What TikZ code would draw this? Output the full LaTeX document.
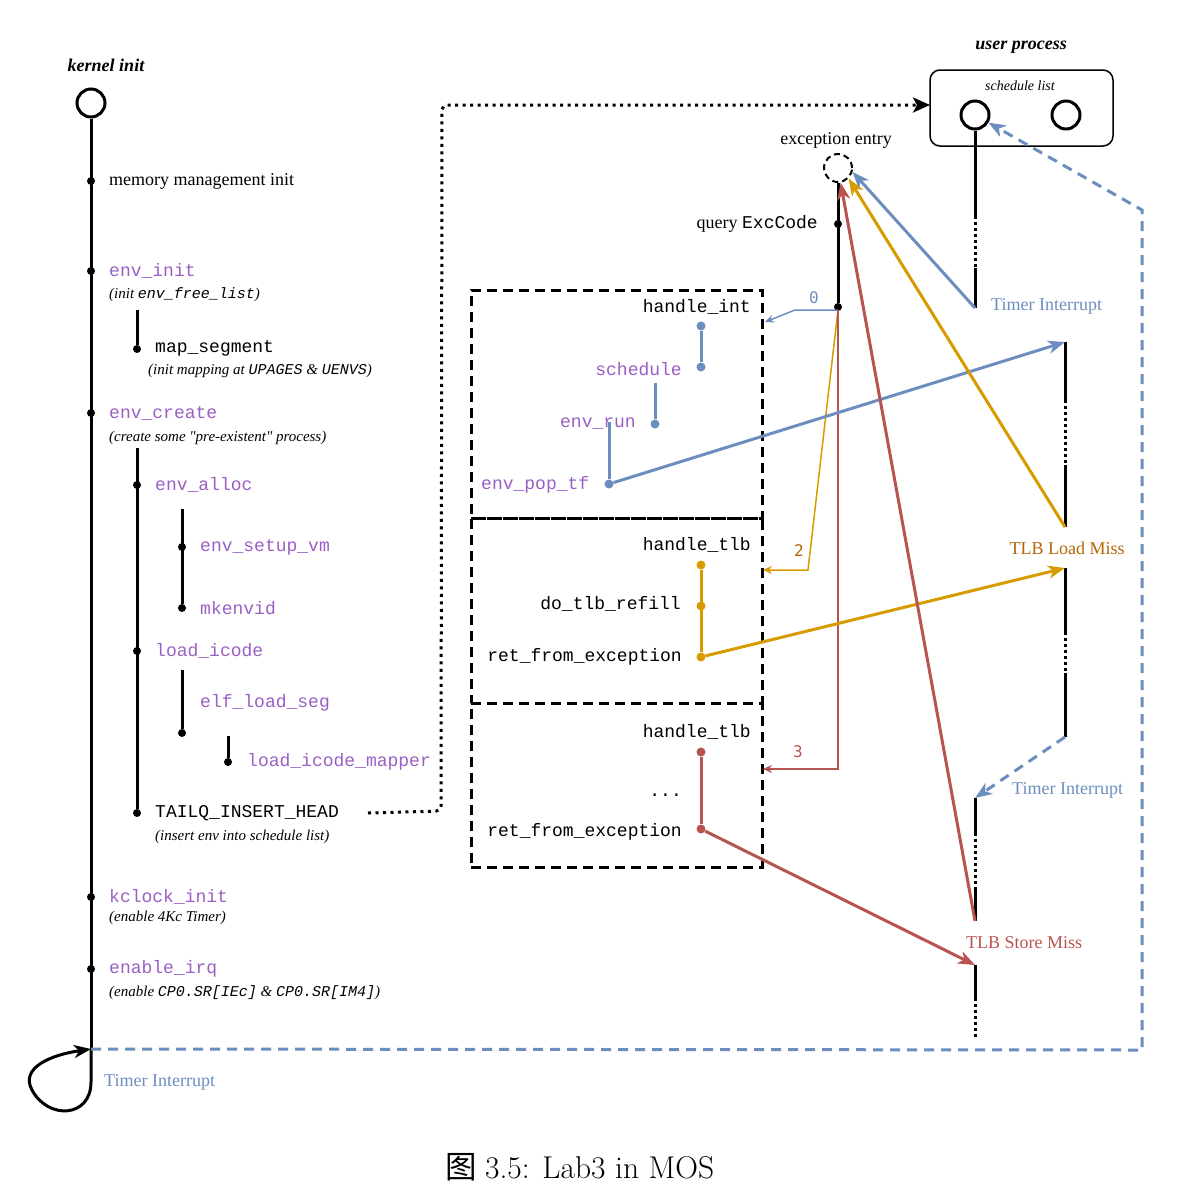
\documentclass[tikz,border=0pt]{standalone}
\usepackage{fontspec}
\setmainfont{Liberation Serif}
\setmonofont{Liberation Mono}
\newfontfamily\cjk{Noto Sans CJK SC}
\newfontfamily\dvsm{DejaVu Sans Mono}
\usetikzlibrary{arrows.meta,calc}
\definecolor{fnpurple}{HTML}{9A5FC5}
\definecolor{dblue}{HTML}{6C8EBF}
\definecolor{dorange}{HTML}{D79B00}
\definecolor{dred}{HTML}{B85450}
\definecolor{tlbbrown}{HTML}{B46504}
\tikzset{
  tl/.style={line width=3pt, black},
  dotl/.style={line width=3pt, black, dash pattern=on 3pt off 3pt},
  dotb/.style={circle, fill=black, inner sep=0pt, minimum size=8pt},
  cdot/.style={circle, fill=#1, inner sep=0pt, minimum size=9pt},
  fn/.style={font=\ttfamily\fontsize{18}{20}\selectfont, text=fnpurple, inner sep=0pt},
  code/.style={font=\ttfamily\fontsize{18}{20}\selectfont, text=black, inner sep=0pt},
  note/.style={font=\itshape\fontsize{15}{17}\selectfont, anchor=west, inner sep=0pt},
  lbl/.style={font=\fontsize{18}{20}\selectfont, inner sep=0pt},
  bi/.style={font=\bfseries\itshape\fontsize{18}{20}\selectfont, inner sep=0pt},
  numl/.style={font=\dvsm\fontsize{16}{18}\selectfont, inner sep=0pt},
  dbox/.style={draw, line width=3pt, dash pattern=on 10pt off 6pt, inner sep=0pt},
  bigtip/.style={-{Stealth[length=17pt, width=13pt, inset=5pt]}},
  thintip/.style={-{Stealth[length=9pt, width=8pt, inset=3pt]}},
  thick3/.style={line width=3pt},
  thin/.style={line width=1.5pt},
}
\begin{document}
\begin{tikzpicture}[x=1pt,y=-1pt]
\useasboundingbox (0,0) rectangle (1182,1202);

% ---------------- left timeline ----------------
\node[bi] (klabel) at (106,65) {kernel init};
\node[draw, circle, line width=3pt, minimum size=28pt, inner sep=0pt] (kc) at (91,103) {};
\node[dotb] (mm) at (91,181) {};
\node[dotb] (ei) at (91,271) {};
\node[dotb] (ec) at (91,413) {};
\node[dotb] (kci) at (91,897) {};
\node[dotb] (eirq) at (91,969) {};
\coordinate (kbot) at (91,1049);
\coordinate (lp1) at (91,1082);
\coordinate (lp2) at (32,1090);
\draw[tl] (kc.south) -- (kbot);
\draw[tl, -{Stealth[length=17pt, width=13pt, inset=5pt]}] (kbot) -- (lp1)
  .. controls (91,1118) and (48,1120) .. (lp2)
  .. controls (20,1068) and (50,1055) .. (kbot);

\node[lbl, anchor=west] (mmt) at (109,181) {memory management init};
\node[fn, anchor=west] (eit) at (109,271) {env\_init};
\node[note] (ein) at (109,295) {(init {\ttfamily env\_free\_list})};

\coordinate (ms0) at (137,310);
\node[dotb] (ms) at (137,349) {};
\draw[tl] (ms0) -- (ms);
\node[code, anchor=west] (mst) at (155,348) {map\_segment};
\node[note] (msn) at (148,371) {(init mapping at {\ttfamily UPAGES} \& {\ttfamily UENVS})};

\node[fn, anchor=west] (ect) at (109,413) {env\_create};
\node[note] (ecn) at (109,438) {(create some \textquotedbl pre-existent\textquotedbl\ process)};

\coordinate (ec0) at (137,448);
\node[dotb] (ea) at (137,485) {};
\node[dotb] (li) at (137,651) {};
\node[dotb] (tq) at (137,813) {};
\draw[tl] (ec0) -- (tq);
\node[fn, anchor=west] (eat) at (155,485) {env\_alloc};

\coordinate (ea0) at (182,509);
\node[dotb] (esv) at (182,547) {};
\node[dotb] (mk) at (182,608) {};
\draw[tl] (ea0) -- (mk);
\node[fn, anchor=west] (esvt) at (200,547) {env\_setup\_vm};
\node[fn, anchor=west] (mkt) at (200,608) {mkenvid};

\node[fn, anchor=west] (lit) at (155,651) {load\_icode};
\coordinate (li0) at (182,670);
\node[dotb] (els) at (182,733) {};
\draw[tl] (li0) -- (els);
\node[fn, anchor=west] (elst) at (200,703) {elf\_load\_seg};

\coordinate (els0) at (228,736);
\node[dotb] (lim) at (228,762) {};
\draw[tl] (els0) -- (lim);
\node[fn, anchor=west] (limt) at (247,762) {load\_icode\_mapper};

\node[code, anchor=west] (tqt) at (155,813) {TAILQ\_INSERT\_HEAD};
\node[note] (tqn) at (155,837) {(insert env into schedule list)};

\node[fn, anchor=west] (kct) at (109,897) {kclock\_init};
\node[note] (kcn) at (109,918) {(enable 4Kc Timer)};
\node[fn, anchor=west] (eirqt) at (109,969) {enable\_irq};
\node[note] (eirqn) at (109,993) {(enable {\ttfamily CP0.SR[IEc]} \& {\ttfamily CP0.SR[IM4]})};

\node[lbl, anchor=west, text=dblue] (tik) at (104,1082) {Timer Interrupt};

% ---------------- user process ----------------
\node[bi] (uplabel) at (1021,47) {user process};
\node[draw, rounded corners=10pt, line width=1.5pt, minimum width=183pt, minimum height=76pt, inner sep=0pt] (upbox) at (1021.5,108) {};
\node[font=\itshape\fontsize{14}{16}\selectfont, inner sep=0pt] (sll) at (1020,86) {schedule list};
\node[draw, circle, line width=3pt, minimum size=28pt, inner sep=0pt] (uc1) at (975,115) {};
\node[draw, circle, line width=3pt, minimum size=28pt, inner sep=0pt] (uc2) at (1066,115) {};

% dotted connector TAILQ -> user process
\coordinate (dq0) at (368,813);
\coordinate (upin) at (930,105);
\draw[line width=3pt, dash pattern=on 3pt off 4.5pt, rounded corners=5pt,
      -{Stealth[length=17pt, width=15pt, inset=4pt]}]
  (dq0) -- (441,811) -- (442,105) -- (upin);

% big blue dashed return
\draw[dblue, line width=3pt, dash pattern=on 10pt off 7pt, bigtip]
  (kbot) -- (1142,1050) -- (1142,210) -- (uc1);

% ---------------- exception entry ----------------
\node[lbl] (eel) at (836,140) {exception entry};
\node[draw, circle, line width=2pt, dash pattern=on 6pt off 4pt, minimum size=28pt, inner sep=0pt] (ee) at (838,168) {};
\node[dotb] (qe) at (838,224) {};
\node[dotb] (qd) at (838,307) {};
\draw[tl] (ee.south) -- (qd);
\node[lbl, anchor=east] (qet) at (818,224) {query {\ttfamily ExcCode}};

% column x=975 top
\coordinate (c1a) at (975,216);
\coordinate (c1b) at (975,268);
\coordinate (ti1) at (975,308);
\draw[tl] (uc1.south) -- (c1a);
\draw[dotl] (c1a) -- (c1b);
\draw[tl] (c1b) -- (ti1);
\node[lbl, anchor=west, text=dblue] (ti1t) at (991,306) {Timer Interrupt};

% ---------------- handler boxes ----------------
\node[dbox, minimum width=291pt, minimum height=228pt] (b1) at (616.5,404) {};
\node[dbox, minimum width=291pt, minimum height=185pt] (b2) at (616.5,610.5) {};
\node[dbox, minimum width=291pt, minimum height=164pt] (b3) at (616.5,785) {};

% box 1
\node[code, anchor=east] (hi) at (751,307) {handle\_int};
\node[cdot=dblue] (s1) at (701,326) {};
\node[cdot=dblue] (s2) at (701,367) {};
\draw[dblue, thick3] (s1) -- (s2);
\node[fn, anchor=east] (scht) at (682,369) {schedule};
\coordinate (s3a) at (655,383);
\node[cdot=dblue] (s3) at (655,424) {};
\draw[dblue, thick3] (s3a) -- (s3);
\node[fn, anchor=east] (ert) at (636,424) {env\_run};
\coordinate (s4a) at (609,422);
\node[cdot=dblue] (s4) at (609,484) {};
\draw[dblue, thick3] (s4a) -- (s4);
\node[fn, anchor=west] (ept) at (481,485) {env\_pop\_tf};

% box 2
\node[code, anchor=east] (ht1) at (751,545) {handle\_tlb};
\node[cdot=dorange] (o1) at (701,565) {};
\node[cdot=dorange] (o2) at (701,606) {};
\node[cdot=dorange] (o3) at (701,657) {};
\draw[dorange, thick3] (o1) -- (o3);
\node[code, anchor=east] (dtr) at (681,604) {do\_tlb\_refill};
\node[code, anchor=east] (rfe1) at (682,657) {ret\_from\_exception};

% box 3
\node[code, anchor=east] (ht2) at (751,732) {handle\_tlb};
\node[cdot=dred] (rd1) at (701,752) {};
\node[cdot=dred] (rd2) at (701,829) {};
\draw[dred, thick3] (rd1) -- (rd2);
\node[code, anchor=east] (dots) at (682,795) {...};
\node[code, anchor=east] (rfe2) at (682,832) {ret\_from\_exception};

% ---------------- thin dispatch arrows ----------------
\coordinate (qs) at (838,310);
\coordinate (z0a) at (795,310);
\coordinate (z0) at (765,322);
\draw[dblue, thin, thintip] (qs) -- (z0a) -- (z0);
\node[numl, text=dblue] (l0) at (814,298) {0};
\coordinate (z2a) at (808,570);
\coordinate (z2) at (763,570);
\draw[dorange, thin, thintip] (qs) -- (z2a) -- (z2);
\node[numl, text=tlbbrown] (l2) at (799,551) {2};
\coordinate (z3a) at (838,769);
\coordinate (z3) at (763,769);
\draw[dred, thin, thintip] (qs) -- (z3a) -- (z3);
\node[numl, text=dred] (l3) at (798,752) {3};

% ---------------- right columns ----------------
\coordinate (r1top) at (1065,342);
\coordinate (r1a) at (1065,400);
\coordinate (r1b) at (1065,465);
\coordinate (r1c) at (1065,527);
\draw[tl] (r1top) -- (r1a);
\draw[dotl] (r1a) -- (r1b);
\draw[tl] (r1b) -- (r1c);
\node[lbl, text=tlbbrown] (tlm) at (1067,548) {TLB Load Miss};

\coordinate (r2top) at (1065,568);
\coordinate (r2a) at (1065,632);
\coordinate (r2b) at (1065,673);
\coordinate (r2c) at (1065,737);
\draw[tl] (r2top) -- (r2a);
\draw[dotl] (r2a) -- (r2b);
\draw[tl] (r2b) -- (r2c);
\node[lbl, anchor=west, text=dblue] (ti2t) at (1012,790) {Timer Interrupt};

\coordinate (c2top) at (975,798);
\coordinate (c2a) at (975,833);
\coordinate (c2b) at (975,888);
\coordinate (c2c) at (975,921);
\draw[tl] (c2top) -- (c2a);
\draw[dotl] (c2a) -- (c2b);
\draw[tl] (c2b) -- (c2c);
\node[lbl, text=dred] (tsm) at (1024,943) {TLB Store Miss};

\coordinate (c3top) at (975,965);
\coordinate (c3a) at (975,998);
\coordinate (c3b) at (975,1037);
\draw[tl] (c3top) -- (c3a);
\draw[dotl] (c3a) -- (c3b);

% ---------------- thick arrows ----------------
\draw[dblue, thick3, bigtip] (ti1) -- (ee.-15);
\draw[dblue, thick3, bigtip] (s4) -- (r1top);
\draw[dorange, thick3, bigtip] (r1c) -- (ee.-45);
\draw[dorange, thick3, bigtip] (o3) -- (r2top);
\draw[dblue, line width=3pt, dash pattern=on 10pt off 7pt, bigtip] (r2c) -- (c2top);
\draw[dred, thick3, bigtip] (c2c) -- (ee.-80);
\draw[dred, thick3, bigtip] (rd2) -- (c3top);

% ---------------- caption ----------------
\node[inner sep=0pt, font=\fontsize{31.5}{34}\selectfont] (cap) at (580,1167)
  {{\cjk 图} {\fontfamily{lmr}\selectfont 3.5: Lab3 in MOS}};
\end{tikzpicture}
\end{document}
